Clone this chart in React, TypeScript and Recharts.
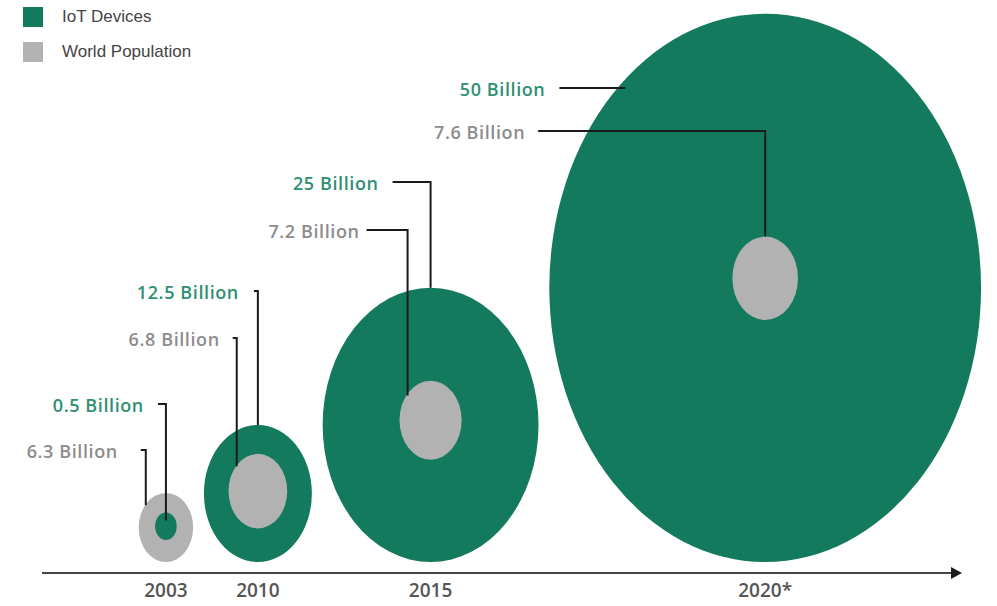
import React from 'react';
import { ComposedChart, XAxis, YAxis, ReferenceArea, ReferenceDot } from 'recharts';

// values (billions)
const years = ['2003', '2010', '2015', '2020*'];
const iotDevices = [0.5, 12.5, 25, 50];
const worldPopulation = [6.3, 6.8, 7.2, 7.6];

const GREEN = '#137a5e';
const GRAY = '#b2b2b2';
const GREEN_TEXT = '#2f8f73';
const GRAY_TEXT = '#8c8c8c';

// chart space: one unit = one billion; bubble radius is proportional to value
const X_MAX = 211;
const Y_MAX = 104.5;
const BASE = 2; // bubbles sit on this line
const START = 28.7; // centre of the first bubble
const GAP = 2.5; // space between neighbouring bubbles
const MIN_R = 2.5; // smallest drawn radius
const LIFT = 0.035; // inner bubble sits a bit above the centre

// callout placement (pixels)
const CALLOUTS: Record<string, any[]> = {
  iot: [
    { level: 404, f: 0, hook: 8, gap: 14, sink: 8 },
    { level: 291, f: 0, hook: 4, gap: 15, sink: 0 },
    { level: 182, f: 0, hook: 38, gap: 14, sink: 0 },
    { level: 88, side: true, hook: 66, gap: 14, sink: 8 },
  ],
  pop: [
    { level: 450, f: -0.74, hook: 5, gap: 23, sink: 1 },
    { level: 338, f: -0.72, hook: 4, gap: 13, sink: 1 },
    { level: 230, f: -0.74, hook: 41, gap: 7, sink: 2 },
    { level: 131, f: 0, hook: 227, gap: 13, sink: 0 },
  ],
};

const outerR = years.map((_, i) => Math.max(iotDevices[i], worldPopulation[i]));
const centers: number[] = [];
outerR.forEach((r, i) => {
  centers.push(i === 0 ? START : centers[i - 1] + outerR[i - 1] + GAP + r);
});

type Bubble = {
  key: string;
  year: number;
  label: string;
  color: string;
  textColor: string;
  x1: number;
  x2: number;
  y1: number;
  y2: number;
};

const outerBubbles: Bubble[] = [];
const innerBubbles: Bubble[] = [];
years.forEach((_, i) => {
  const iot = { key: 'iot', value: iotDevices[i], color: GREEN, textColor: GREEN_TEXT };
  const pop = { key: 'pop', value: worldPopulation[i], color: GRAY, textColor: GRAY_TEXT };
  const [outer, inner] = iot.value >= pop.value ? [iot, pop] : [pop, iot];
  const c = centers[i];
  const R = outerR[i];
  outerBubbles.push({
    key: outer.key, year: i, label: `${outer.value} Billion`, color: outer.color, textColor: outer.textColor,
    x1: c - R, x2: c + R, y1: BASE, y2: BASE + 2 * R,
  });
  const r = Math.max(inner.value, MIN_R);
  const cy = BASE + R + LIFT * R;
  innerBubbles.push({
    key: inner.key, year: i, label: `${inner.value} Billion`, color: inner.color, textColor: inner.textColor,
    x1: c - r, x2: c + r, y1: cy - r, y2: cy + r,
  });
});
const allBubbles = [...outerBubbles, ...innerBubbles];

const labelStyle = {
  fontFamily: '"Open Sans", sans-serif',
  fontWeight: 600,
  fontSize: 18,
  letterSpacing: 0.6,
};

function EllipseShape(props: any, b: Bubble) {
  const { x, y, width, height } = props;
  return <ellipse cx={x + width / 2} cy={y + height / 2} rx={width / 2} ry={height / 2} fill={b.color} />;
}

function CalloutShape(props: any, b: Bubble) {
  const { x, y, width, height } = props;
  const cx = x + width / 2;
  const cy = y + height / 2;
  const rx = width / 2;
  const ry = height / 2;
  const c = CALLOUTS[b.key][b.year];
  let d: string;
  let textX: number;
  if (c.side) {
    const dy = (c.level - cy) / ry;
    const ex = cx - rx * Math.sqrt(Math.max(0, 1 - dy * dy)) + c.sink;
    d = `M${ex - c.hook},${c.level} H${ex}`;
    textX = ex - c.hook - c.gap;
  } else {
    const vx = cx + c.f * rx;
    const ey = cy - ry * Math.sqrt(1 - c.f * c.f) + c.sink;
    d = `M${vx - c.hook},${c.level} H${vx} V${ey}`;
    textX = vx - c.hook - c.gap;
  }
  return (
    <g>
      <path d={d} stroke="#1b1b1b" strokeWidth={2} fill="none" />
      <text x={textX} y={c.level + 1} textAnchor="end" dominantBaseline="central" fill={b.textColor} style={labelStyle}>
        {b.label}
      </text>
    </g>
  );
}

function Arrow(props: any) {
  const { cx, cy } = props;
  return <path d={`M${cx - 2},${cy - 6} L${cx + 9},${cy} L${cx - 2},${cy + 6} Z`} fill="#1b1b1b" />;
}

const legendItems = [
  { name: 'IoT Devices', color: GREEN },
  { name: 'World Population', color: GRAY },
];

export default function App() {
  return (
    <div style={{ position: 'absolute', left: 0, top: 0, width: 997, height: 606, background: '#fff' }}>
      <ComposedChart width={997} height={606} margin={{ top: 0, right: 44, bottom: 3, left: 42 }}>
        <XAxis
          type="number"
          dataKey="x"
          domain={[0, X_MAX]}
          ticks={centers}
          interval={0}
          tickFormatter={(v: number) => years[centers.findIndex((c) => Math.abs(c - v) < 0.01)] ?? ''}
          tickLine={false}
          tickMargin={5}
          axisLine={{ stroke: '#444', strokeWidth: 2 }}
          tick={{ fontSize: 19, fill: '#555', fontWeight: 600, fontFamily: '"Open Sans", sans-serif' }}
          allowDataOverflow
        />
        <YAxis type="number" domain={[0, Y_MAX]} hide allowDataOverflow />
        {allBubbles.map((b, i) => (
          <ReferenceArea
            key={`e${i}`}
            x1={b.x1}
            x2={b.x2}
            y1={b.y1}
            y2={b.y2}
            ifOverflow="visible"
            shape={(p: any) => EllipseShape(p, b)}
          />
        ))}
        {allBubbles.map((b, i) => (
          <ReferenceArea
            key={`c${i}`}
            x1={b.x1}
            x2={b.x2}
            y1={b.y1}
            y2={b.y2}
            ifOverflow="visible"
            shape={(p: any) => CalloutShape(p, b)}
          />
        ))}
        <ReferenceDot x={X_MAX} y={0} r={6} ifOverflow="visible" shape={Arrow} />
      </ComposedChart>
      {legendItems.map((item, i) => (
        <div
          key={item.name}
          style={{
            position: 'absolute',
            left: 23,
            top: 7 + i * 35,
            display: 'flex',
            alignItems: 'center',
            fontFamily: '"Liberation Sans", Arial, sans-serif',
            fontSize: 17,
            color: '#444',
          }}
        >
          <span style={{ display: 'inline-block', width: 20, height: 20, background: item.color, marginRight: 19 }} />
          {item.name}
        </div>
      ))}
    </div>
  );
}
